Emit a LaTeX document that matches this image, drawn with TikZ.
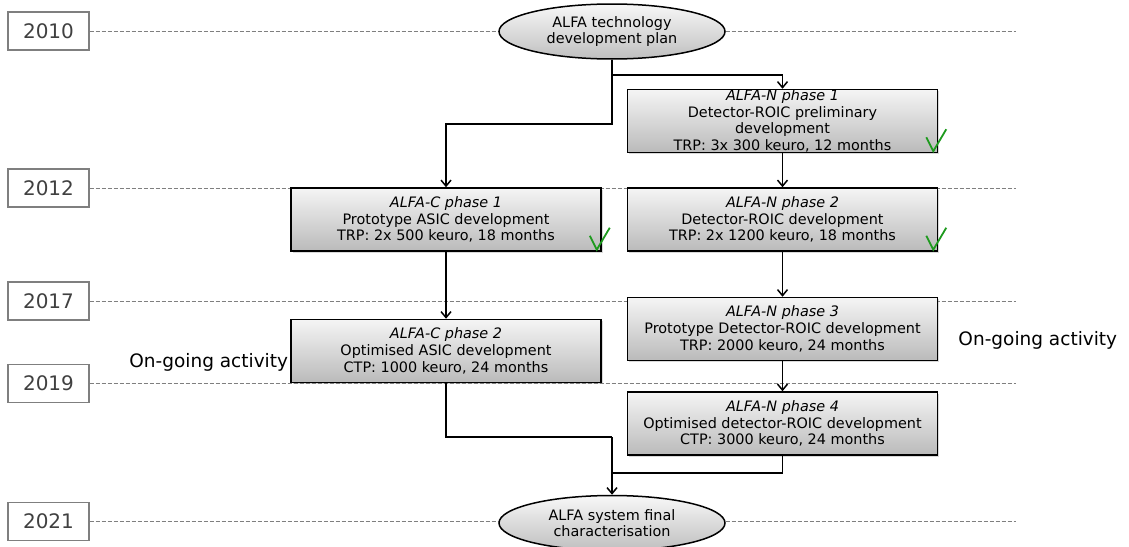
\documentclass[tikz,border=0pt]{standalone}
\usepackage{fontspec}
\setmainfont{DejaVu Sans}
\usetikzlibrary{arrows.meta,positioning,shapes.geometric,shadows}
\definecolor{GuideGrey}{HTML}{7F7F7F}
\definecolor{YearGrey}{HTML}{404040}
\definecolor{TickGreen}{HTML}{1E9A1E}
\newcommand\donemark[1]{\draw[ok] ([shift={(-12,-16)}]#1.south east) -- ([shift={(-5,-2)}]#1.south east) -- ([shift={(8,-24)}]#1.south east);}

\begin{document}
\begin{tikzpicture}[x=1pt,y=-1pt,
  ph/.style={draw=black,line width=1.5pt,align=center,minimum width=310pt,minimum height=63pt,inner xsep=2pt,inner ysep=0pt,top color=black!4,bottom color=black!27,drop shadow={shadow xshift=1.5pt,shadow yshift=-1.5pt,opacity=0.3},font=\fontsize{14.4}{16.7}\selectfont},
  ev/.style={ellipse,draw=black,line width=1.5pt,align=center,minimum width=226pt,minimum height=55pt,inner sep=0pt,top color=black!3,bottom color=black!25,font=\fontsize{14.4}{16}\selectfont},
  yr/.style={draw=GuideGrey,line width=1.1pt,text=YearGrey,minimum width=81pt,minimum height=38pt,inner sep=0pt,font=\fontsize{20}{22}\selectfont},
  gd/.style={GuideGrey,line width=0.9pt,dash pattern=on 4pt off 2pt},
  arr/.style={-{Straight Barb[length=6pt,width=10pt]},line width=1.5pt},
  ok/.style={TickGreen,line width=1.8pt},
  ongo/.style={inner sep=0pt,font=\fontsize{18.5}{20}\selectfont}]
  \useasboundingbox (0,0) rectangle (1129,546);

  % years and time lines
  \node[yr] (y10) at (48.5,31) {2010};
  \node[yr] (y12) at (48.5,188) {2012};
  \node[yr] (y17) at (48.5,301) {2017};
  \node[yr] (y19) at (48.5,383.5) {2019};
  \node[yr] (y21) at (48.5,521.5) {2021};
  \coordinate (rim) at (1016,0);
  \foreach \yy in {y10,y12,y17,y19,y21}
    \draw[gd] (\yy.east) -- (\yy.east -| rim);

  % phases
  \node[ev] (plan) at (612,31.5) {ALFA technology\\development plan};
  \node[ph] (c1) at (446,219.5) {\textit{ALFA-C phase 1}\\Prototype ASIC development\\TRP:\ 2x 500 keuro, 18 months};
  \node[ph,right=25pt of c1] (n2) {\textit{ALFA-N phase 2}\\Detector-ROIC development\\TRP:\ 2x 1200 keuro, 18 months};
  \node[ph,above=34pt of n2] (n1) {\textit{ALFA-N phase 1}\\Detector-ROIC preliminary\\development\\TRP:\ 3x 300 keuro, 12 months};
  \node[ph,below=45pt of n2] (n3) {\textit{ALFA-N phase 3}\\Prototype Detector-ROIC development\\TRP:\ 2000 keuro, 24 months};
  \node[ph,below=30pt of n3] (n4) {\textit{ALFA-N phase 4}\\Optimised detector-ROIC development\\CTP:\ 3000 keuro, 24 months};
  \node[ph,below=67pt of c1] (c2) {\textit{ALFA-C phase 2}\\Optimised ASIC development\\CTP:\ 1000 keuro, 24 months};
  \node[ev] (sys) at (612,523) {ALFA system final\\characterisation};

  % done marks
  \donemark{n1}
  \donemark{c1}
  \donemark{n2}

  \node[ongo,left=2pt of c2,yshift=-11pt] (goc) {On-going activity};
  \node[ongo,right=20pt of n3,yshift=-11pt] (gon) {On-going activity};

  % flow
  \coordinate (nfork) at (612,75);
  \coordinate (cfork) at (612,124);
  \coordinate (cjoin) at (612,437);
  \coordinate (njoin) at (612,473);
  \draw[arr] (plan.south) -- (cfork) -| (c1.north);
  \draw[arr] (nfork) -| (n1.north);
  \draw[arr] (n1) -- (n2);
  \draw[arr] (n2) -- (n3);
  \draw[arr] (n3) -- (n4);
  \draw[arr] (c1) -- (c2);
  \draw[line width=1.5pt] (c2.south) |- (cjoin);
  \draw[line width=1.5pt] (n4.south) |- (njoin);
  \draw[arr] (cjoin) -- (sys.north);
\end{tikzpicture}
\end{document}
